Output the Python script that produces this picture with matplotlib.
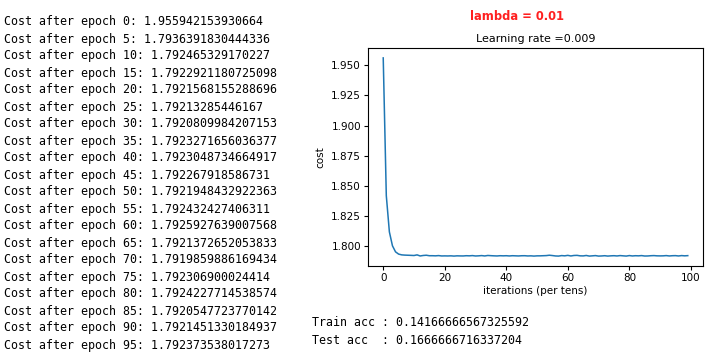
import matplotlib
matplotlib.use("Agg")
import matplotlib.pyplot as plt

W, H = 718, 363

learning_rate = 0.009
lam = 0.01
log_epochs = list(range(0, 100, 5))
log_costs = ["1.955942153930664", "1.7936391830444336", "1.792465329170227",
             "1.7922921180725098", "1.7921568155288696", "1.79213285446167",
             "1.7920809984207153", "1.7923271656036377", "1.7923048734664917",
             "1.792267918586731", "1.7921948432922363", "1.792432427406311",
             "1.7925927639007568", "1.7921372652053833", "1.7919859886169434",
             "1.792306900024414", "1.7924227714538574", "1.7920547723770142",
             "1.7921451330184937", "1.792373538017273"]
train_acc = "0.14166666567325592"
test_acc = "0.1666666716337204"

costs = [1.95594, 1.8420, 1.8120, 1.8005, 1.7955, 1.79364, 1.7930, 1.7928, 1.7927, 1.7926,
         1.79247, 1.7930, 1.7921, 1.7925, 1.7927, 1.79229, 1.7923, 1.7922, 1.7924, 1.7921,
         1.79216, 1.7921, 1.7922, 1.7920, 1.7922, 1.79213, 1.7921, 1.7923, 1.7922, 1.7924,
         1.79208, 1.7922, 1.7924, 1.7921, 1.7925, 1.79233, 1.7922, 1.7921, 1.7923, 1.7922,
         1.79230, 1.7921, 1.7923, 1.7922, 1.7921, 1.79227, 1.7923, 1.7921, 1.7922, 1.7920,
         1.79219, 1.7922, 1.7923, 1.7924, 1.7927, 1.79243, 1.7921, 1.7920, 1.7924, 1.7922,
         1.79259, 1.7921, 1.7925, 1.7926, 1.7922, 1.79214, 1.7925, 1.7920, 1.7922, 1.7924,
         1.79199, 1.7921, 1.7923, 1.7920, 1.7922, 1.79231, 1.7921, 1.7924, 1.7922, 1.7920,
         1.79242, 1.7921, 1.7923, 1.7922, 1.7924, 1.79205, 1.7921, 1.7923, 1.7924, 1.7922,
         1.79215, 1.7922, 1.7924, 1.7921, 1.7923, 1.79237, 1.7921, 1.7924, 1.7922, 1.79237]

fig = plt.figure(figsize=(W / 100, H / 100), dpi=100)
fs = 7.5

# printed training log on the left
for i, (ep, c) in enumerate(zip(log_epochs, log_costs)):
    fig.text(4 / W, 1 - (22 + i * 17.0) / H, f"Cost after epoch {ep}: {c}",
             family="DejaVu Sans Mono", fontsize=8.4, va="center", ha="left")

ax = fig.add_axes([368 / W, 1 - 266 / H, (703 - 368) / W, (266 - 48) / H])
ax.plot(costs, color="#1f77b4", lw=1.1)
ax.set_ylabel("cost", fontsize=fs)
ax.set_xlabel("iterations (per tens)", fontsize=fs, labelpad=2)
ax.set_title("Learning rate =" + str(learning_rate), fontsize=8, pad=4)
ax.tick_params(labelsize=fs, length=3, pad=2)

fig.text(517 / W, 1 - 16 / H, f"lambda = {lam}", color="#ff2020",
         fontsize=8.3, weight="bold", ha="center", va="center")

fig.text(312 / W, 1 - 323 / H, f"Train acc : {train_acc}",
         family="DejaVu Sans Mono", fontsize=8.4, va="center")
fig.text(312 / W, 1 - 341 / H, f"Test acc  : {test_acc}",
         family="DejaVu Sans Mono", fontsize=8.4, va="center")

fig.savefig("out.png", dpi=100)
